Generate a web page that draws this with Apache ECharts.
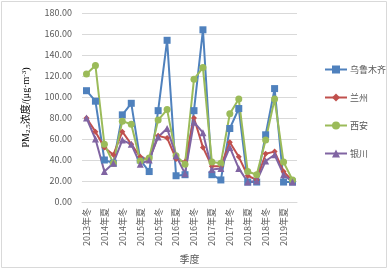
<!DOCTYPE html>
<html>
<head>
<meta charset="utf-8">
<script src="https://cdn.jsdelivr.net/npm/echarts@6/dist/echarts.min.js"></script>
<style>
  html, body { margin: 0; padding: 0; background: #fff; }
  #chart { width: 390px; height: 272px; }
</style>
</head>
<body>
<div id="chart"></div>
<script>
const seasons = [
  '2013年冬', '2014年春', '2014年夏', '2014年秋', '2014年冬', '2015年春', '2015年夏', '2015年秋',
  '2015年冬', '2016年春', '2016年夏', '2016年秋', '2016年冬', '2017年春', '2017年夏', '2017年秋',
  '2017年冬', '2018年春', '2018年夏', '2018年秋', '2018年冬', '2019年春', '2019年夏', '2019年秋'
];

const urumqi = [106, 96, 40, 37, 83, 94, 40, 29, 87, 154, 25, 26, 87, 164, 26, 21, 70, 89, 19, 19, 64, 108, 19, 19];
const lanzhou = [80, 67, 52, 45, 67, 55, 43, 40, 63, 61, 41, 38, 80, 52, 34, 34, 57, 43, 25, 21, 46, 48, 29, 20];
const xian = [122, 130, 55, 37, 77, 74, 39, 42, 78, 88, 44, 36, 117, 128, 38, 37, 84, 98, 29, 26, 59, 98, 38, 21];
const yinchuan = [80, 60, 29, 37, 59, 55, 36, 40, 62, 70, 44, 27, 76, 66, 31, 32, 52, 32, 19, 20, 39, 45, 26, 19];

const chart = echarts.init(document.getElementById('chart'));

function makeSeries(name, data, color, symbol, size) {
  return {
    name: name,
    type: 'line',
    data: data,
    symbol: symbol,
    symbolSize: size,
    showAllSymbol: true,
    lineStyle: { color: color, width: 2 },
    itemStyle: { color: color },
    emphasis: { disabled: true },
    animation: false
  };
}

chart.setOption({
  animation: false,
  textStyle: { fontFamily: '"Noto Sans CJK SC", "Noto Sans", sans-serif' },
  graphic: [{
    type: 'rect',
    shape: { x: 1.5, y: 1.5, width: 385, height: 266 },
    style: { fill: null, stroke: '#d9d9d9', lineWidth: 1 },
    silent: true
  }],
  grid: { left: 82, right: 93, top: 13, bottom: 70 },
  legend: {
    orient: 'vertical',
    left: 319,
    top: 60,
    itemGap: 19,
    itemWidth: 22,
    itemHeight: 10,
    textStyle: { fontSize: 9, color: '#595959', padding: [0, 0, 0, -2] },
    data: ['乌鲁木齐', '兰州', '西安', '银川']
  },
  xAxis: {
    type: 'category',
    data: seasons,
    boundaryGap: true,
    name: '季度',
    nameLocation: 'middle',
    nameGap: 44,
    nameTextStyle: { fontSize: 10, color: '#595959' },
    axisLine: { lineStyle: { color: '#d9d9d9' } },
    axisTick: { show: false },
    axisLabel: { interval: 1, rotate: 90, fontSize: 9, color: '#595959', margin: 6 }
  },
  yAxis: {
    type: 'value',
    min: 0,
    max: 180,
    interval: 20,
    name: '{n|PM}{s|2.5}{n|浓度/(μg·m}{p|-3}{n|)}',
    nameLocation: 'middle',
    nameGap: 50,
    nameRotate: 90,
    nameTextStyle: {
      color: '#000',
      rich: {
        n: { fontSize: 10, fontFamily: '"Liberation Serif", "Noto Sans CJK SC", serif', color: '#000' },
        s: { fontSize: 7, fontFamily: '"Liberation Serif", serif', color: '#000', verticalAlign: 'bottom', padding: [4, 0, 0, 0] },
        p: { fontSize: 7, fontFamily: '"Liberation Serif", serif', color: '#000', verticalAlign: 'top', padding: [0, 0, 4, 0] }
      }
    },
    axisLine: { show: false },
    axisTick: { show: false },
    splitLine: { lineStyle: { color: '#d9d9d9' } },
    axisLabel: {
      fontSize: 9,
      color: '#595959',
      margin: 10,
      formatter: v => v.toFixed(2)
    }
  },
  series: [
    makeSeries('乌鲁木齐', urumqi, '#4f81bd', 'rect', 7),
    makeSeries('兰州', lanzhou, '#c0504d', 'diamond', 6),
    makeSeries('西安', xian, '#9bbb59', 'circle', 7),
    makeSeries('银川', yinchuan, '#8064a2', 'triangle', 7)
  ]
});
</script>
</body>
</html>
